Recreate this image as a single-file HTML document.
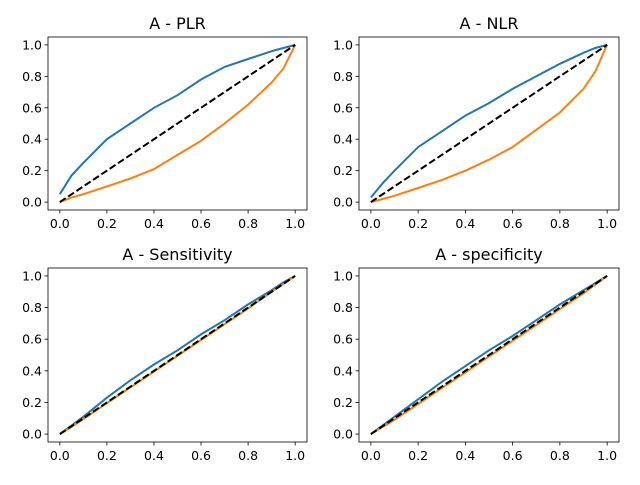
<!DOCTYPE html>
<html><head><meta charset="utf-8"><style>
body{margin:0;background:#fff;font-family:"Liberation Sans","DejaVu Sans",sans-serif}
svg text{font-family:"DejaVu Sans","Liberation Sans",sans-serif}
</style></head><body>
<svg id="c" width="640" height="480" xmlns="http://www.w3.org/2000/svg"></svg>
<script>
const xs = [0,0.05,0.1,0.2,0.3,0.4,0.5,0.6,0.7,0.8,0.9,0.95,1];
const plrBlue = [0.05,0.17,0.25,0.4,0.5,0.6,0.68,0.78,0.86,0.91,0.96,0.98,1];
const plrOrange = [0,0.03,0.05,0.1,0.15,0.21,0.3,0.39,0.5,0.62,0.76,0.85,1];
const nlrBlue = [0.03,0.12,0.2,0.35,0.45,0.55,0.63,0.72,0.8,0.88,0.95,0.98,1];
const nlrOrange = [0,0.02,0.04,0.09,0.14,0.2,0.27,0.35,0.46,0.57,0.72,0.83,1];
const senBlue = [0,0.055,0.11,0.23,0.34,0.44,0.53,0.63,0.72,0.82,0.91,0.96,1];
const senOrange = [0,0.045,0.095,0.195,0.295,0.395,0.495,0.595,0.695,0.795,0.9,0.95,1];
const speBlue = [0,0.055,0.11,0.22,0.33,0.43,0.53,0.62,0.72,0.82,0.91,0.955,1];
const speOrange = [0,0.045,0.09,0.19,0.29,0.39,0.49,0.59,0.69,0.79,0.89,0.945,1];
const ticks = [0,0.2,0.4,0.6,0.8,1.0];
const tickLabels = ["0.0","0.2","0.4","0.6","0.8","1.0"];
const panels = [
 {title:"A - PLR", name:"plr", l:48,t:37,w:259,h:173, b:plrBlue, o:plrOrange},
 {title:"A - NLR", name:"nlr", l:359,t:37,w:260,h:173, b:nlrBlue, o:nlrOrange},
 {title:"A - Sensitivity", name:"sensitivity", l:48,t:268,w:259,h:174, b:senBlue, o:senOrange},
 {title:"A - specificity", name:"specificity", l:359,t:268,w:260,h:174, b:speBlue, o:speOrange}
];
const svg=document.getElementById('c');
const NS="http://www.w3.org/2000/svg";
function mk(tag,attrs,parent){const e=document.createElementNS(NS,tag);for(const k in attrs)e.setAttribute(k,attrs[k]);(parent||svg).appendChild(e);return e;}
panels.forEach(p=>{
 const g=mk('g',{});
 
 
 const pad=p.w/21.9;
 const X=v=>p.l+pad+v*(p.w-2*pad);
 const padY=p.h/21.9;
 const Y=v=>p.t+p.h-padY-v*(p.h-2*padY);
 const fr=mk('rect',{x:p.l,y:p.t,width:p.w,height:p.h,fill:'none',stroke:'#000','stroke-width':0.8},g);
 
 
 ticks.forEach((tv,i)=>{
  mk('line',{x1:X(tv),x2:X(tv),y1:p.t+p.h,y2:p.t+p.h+3.5,stroke:'#000','stroke-width':0.8},g);
  const tx=mk('text',{x:X(tv),y:p.t+p.h+18,'font-size':12.5,'text-anchor':'middle'},g);
  tx.textContent=tickLabels[i];
  
  
  mk('line',{x1:p.l-3.5,x2:p.l,y1:Y(tv),y2:Y(tv),stroke:'#000','stroke-width':0.8},g);
  const ty=mk('text',{x:p.l-6,y:Y(tv)+4.5,'font-size':12.5,'text-anchor':'end'},g);
  ty.textContent=tickLabels[i];
  
  
 });
 const tt=mk('text',{x:p.l+p.w/2,y:p.t-8,'font-size':16,'text-anchor':'middle'},g);
 tt.textContent=p.title;
 
 
 const pts=a=>a.map((v,i)=>X(xs[i]).toFixed(1)+','+Y(v).toFixed(1)).join(' ');
 const lb=mk('polyline',{points:pts(p.b),fill:'none',stroke:'#1f77b4','stroke-width':2},g);
 
 
 const lo=mk('polyline',{points:pts(p.o),fill:'none',stroke:'#ff7f0e','stroke-width':2},g);
 
 
 const d=mk('line',{x1:X(0),y1:Y(0),x2:X(1),y2:Y(1),stroke:'#000','stroke-width':2,'stroke-dasharray':'7,3'},g);
 
 
});
</script>
</body></html>
